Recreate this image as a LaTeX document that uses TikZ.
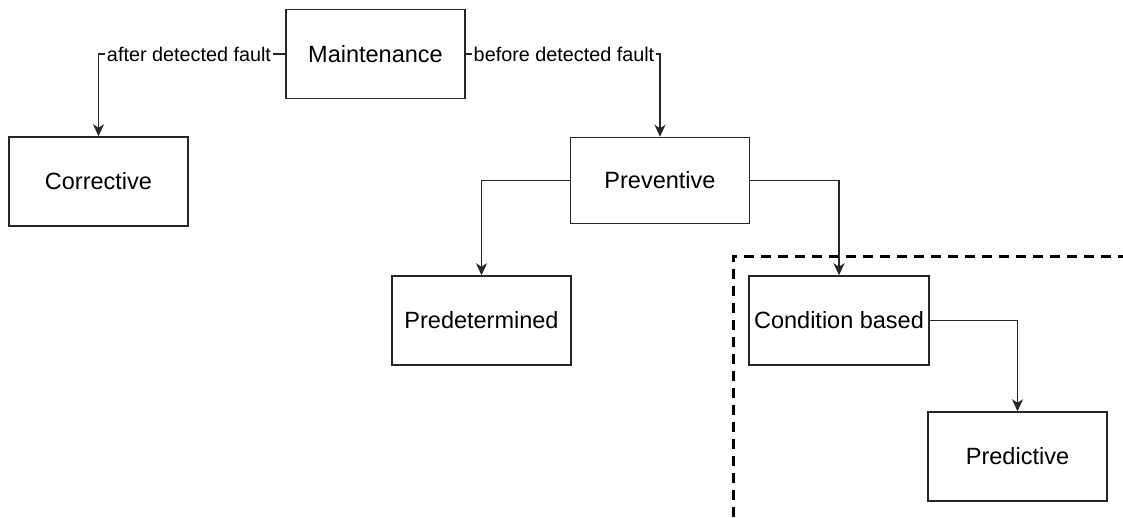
\documentclass[tikz,border=0pt]{standalone}
\usepackage{fontspec}
\setmainfont{Liberation Sans}
\usetikzlibrary{arrows.meta}
\begin{document}
\begin{tikzpicture}[x=1pt,y=-1pt,
  box/.style={draw=black!85,line width=1.5pt,minimum width=179pt,minimum height=89pt,inner sep=0pt,font=\fontsize{23.5}{28}\selectfont},
  link/.style={draw=black!85,line width=1.5pt,-{Stealth[length=12pt,width=11pt,inset=3.5pt]}},
  tag/.style={fill=white,inner sep=1.5pt,font=\fontsize{19.8}{23}\selectfont},
  region/.style={draw=black,line width=3pt,dash pattern=on 10pt off 7pt}]
\useasboundingbox (0,0) rectangle (1123,517);
% grouped region of condition-driven strategies
\draw[region] (733,517) -- (733,256) -- (1123,256);
% strategy boxes
\node[box] (maint) at (375.5,54) {Maintenance};
\node[box] (corr) at (98.5,181.5) {Corrective};
\node[box,minimum height=86pt] (prev) at (660,180.5) {Preventive};
\node[box] (pred) at (481.5,320.5) {Predetermined};
\node[box,minimum width=180pt] (cond) at (839,320.5) {Condition based};
\node[box] (predi) at (1017.5,456.5) {Predictive};
% connectors
\draw[link] (maint.west) -| (corr.north);
\draw[link] (maint.east) -| (prev.north);
\draw[link] (prev.west) -| (pred.north);
\draw[link] (prev.east) -| (cond.north);
\draw[link] (cond.east) -| (predi.north);
% edge labels
\node[tag] (lafter) at (189,54) {after detected fault};
\node[tag] (lbefore) at (564,54) {before detected fault};
\end{tikzpicture}
\end{document}
